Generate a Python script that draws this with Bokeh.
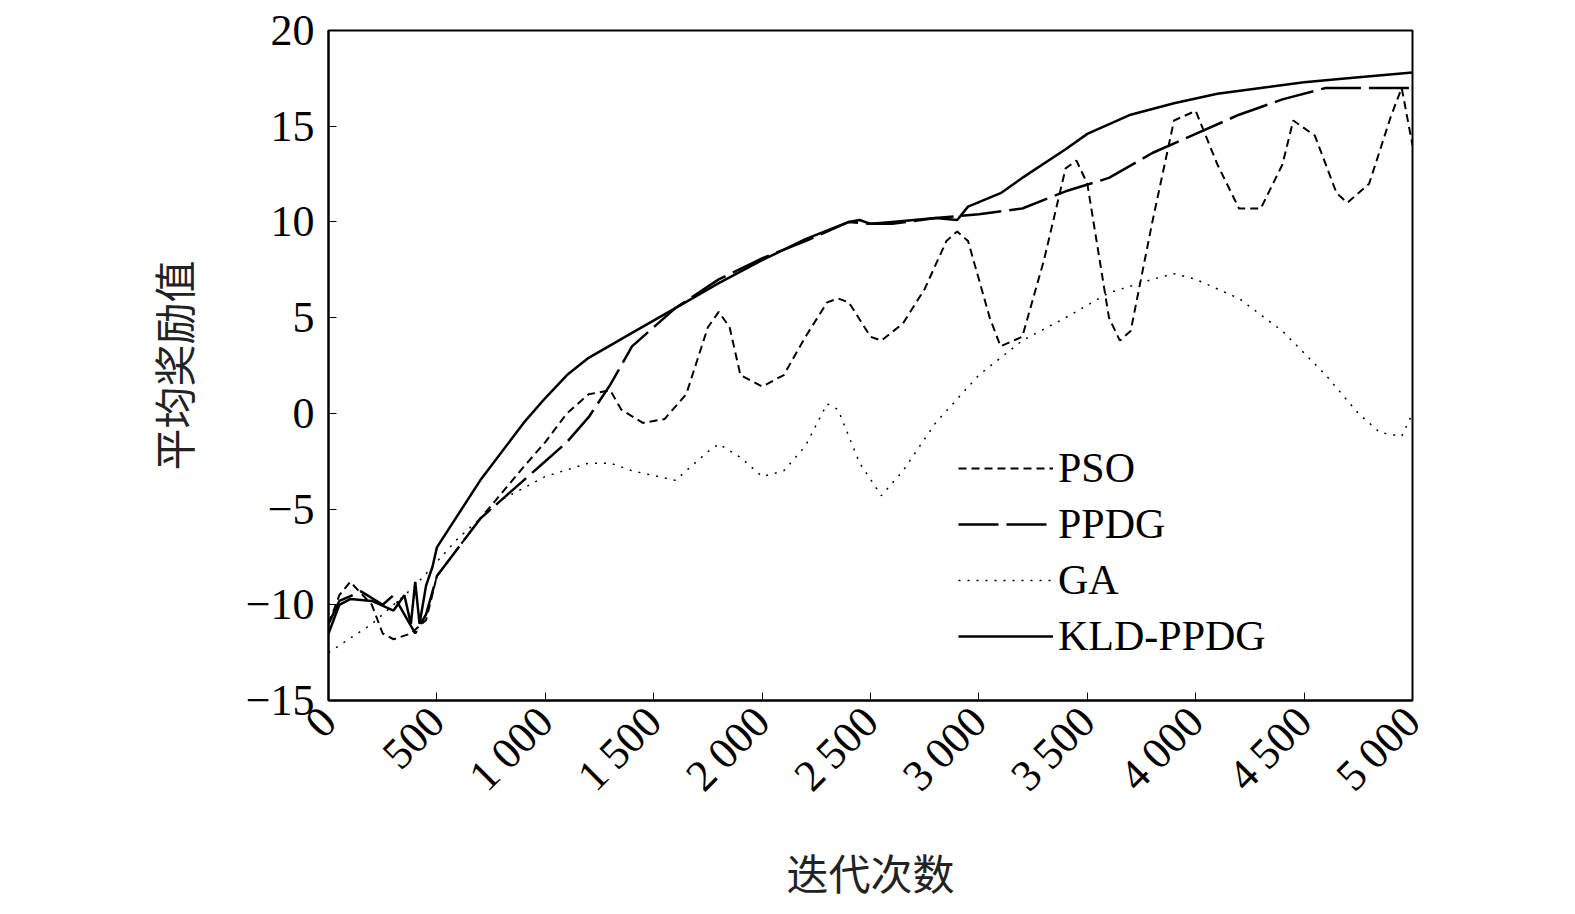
import math
from bokeh.plotting import figure
from bokeh.models import Legend, LegendItem, FixedTicker, CustomJSTickFormatter
from bokeh.embed import file_html
from bokeh.resources import INLINE

kld_x = [0,50,100,200,300,350,380,400,420,450,480,500,700,900,1000,1100,1200,1400,1600,1800,2000,2200,2400,2450,2500,2600,2800,2900,2950,3100,3200,3400,3500,3700,3900,4100,4300,4500,4700,5000]
kld_y = [-11.5,-10,-9.7,-9.8,-10.3,-9.5,-11,-8.8,-11,-9,-8,-7,-3.5,-0.5,0.8,2,2.9,4.2,5.5,6.8,8,9.1,10,10.1,9.9,10,10.2,10.1,10.8,11.5,12.3,13.8,14.6,15.6,16.2,16.7,17.0,17.3,17.5,17.8]
ppdg_x = [0,50,150,250,300,400,450,500,700,900,1000,1100,1200,1300,1400,1600,1800,2000,2200,2400,2500,2600,2800,3000,3200,3400,3600,3800,4000,4200,4400,4600,5000]
ppdg_y = [-11,-9.8,-9.3,-10,-9.5,-11.5,-10.5,-8.5,-5.5,-3.5,-2.5,-1.5,-0.2,1.5,3.5,5.5,7,8.1,9,10,9.9,9.9,10.2,10.4,10.7,11.6,12.3,13.6,14.6,15.6,16.4,17,17]
pso_x = [0,50,100,200,250,300,380,450,500,700,900,1000,1100,1200,1300,1350,1450,1550,1650,1750,1800,1850,1900,2000,2100,2200,2300,2350,2400,2500,2550,2650,2750,2850,2900,2950,3050,3100,3200,3300,3400,3450,3500,3600,3650,3700,3800,3900,4000,4100,4200,4300,4400,4450,4550,4650,4700,4800,4900,4950,5000]
pso_y = [-11,-9.5,-8.8,-10,-11.5,-11.8,-11.5,-10.8,-8.5,-5.5,-2.8,-1.5,0,1,1.2,0.2,-0.5,-0.3,1,4.5,5.3,4.5,2,1.4,2,4,5.8,6,5.8,4,3.8,4.7,6.5,9,9.5,9,5,3.5,4,8,12.8,13.2,12,5,3.8,4.3,10,15.3,15.8,13,10.7,10.7,13,15.3,14.5,11.5,11,12,15.5,17,14]
ga_x = [0,200,400,600,800,1000,1200,1300,1400,1600,1750,1800,1900,2000,2100,2200,2300,2350,2450,2550,2650,2800,3000,3200,3400,3600,3800,3900,4000,4200,4400,4600,4750,4850,4950,5000]
ga_y = [-12.5,-11,-9,-6.5,-4.5,-3.3,-2.6,-2.6,-3,-3.5,-2,-1.6,-2.3,-3.3,-3,-1.7,0.5,0.2,-2.6,-4.3,-3,-0.5,2,3.8,5,6.3,7,7.3,7,6,4.3,2,0,-1,-1.2,0]
x_ticks = [0,500,1000,1500,2000,2500,3000,3500,4000,4500,5000]
y_ticks = [-15,-10,-5,0,5,10,15,20]

p = figure(width=1562, height=904, output_backend="svg", toolbar_location=None,
           x_range=(0,5000), y_range=(-15,20),
           min_border_left=328, min_border_right=150, min_border_top=30, min_border_bottom=190)
p.grid.visible = False
p.outline_line_color = "black"; p.outline_line_width = 2
for ax in (p.xaxis[0], p.yaxis[0]):
    ax.major_label_text_font = "Liberation Serif"
    ax.major_label_text_font_size = "44px"
    ax.major_label_text_color = "black"
    ax.major_label_standoff = 14
    ax.axis_label_text_font = "Noto Sans CJK SC"
    ax.axis_label_text_font_size = "42px"
    ax.axis_label_text_font_style = "normal"
    ax.axis_label_text_color = "#222"
    ax.axis_line_width = 2
    ax.major_tick_in = 8; ax.major_tick_out = 0
    ax.minor_tick_line_color = None
p.yaxis.axis_label_standoff = 40
p.xaxis.axis_label_standoff = 20
p.xaxis.ticker = FixedTicker(ticks=x_ticks)
p.yaxis.ticker = FixedTicker(ticks=y_ticks)
p.xaxis.formatter = CustomJSTickFormatter(code="return tick>=1000 ? Math.floor(tick/1000)+'\u2009'+String(tick%1000).padStart(3,'0') : String(tick);")
p.yaxis.formatter = CustomJSTickFormatter(code="return tick<0 ? '\u2212'+Math.abs(tick) : String(tick);")
p.xaxis.major_label_orientation = math.pi/4
p.xaxis.axis_label = "迭代次数"
p.yaxis.axis_label = "平均奖励值"

r_pso = p.line(pso_x, pso_y, color="black", line_width=2, line_dash="8 5")
r_ppdg = p.line(ppdg_x, ppdg_y, color="black", line_width=2.5, line_dash="40 8")
r_ga = p.line(ga_x, ga_y, color="black", line_width=1.5, line_dash="2 7")
r_kld = p.line(kld_x, kld_y, color="black", line_width=2.5)

leg = Legend(items=[LegendItem(label="PSO", renderers=[r_pso]),
                    LegendItem(label="PPDG", renderers=[r_ppdg]),
                    LegendItem(label="GA", renderers=[r_ga]),
                    LegendItem(label="KLD-PPDG", renderers=[r_kld])],
             location=(630, 40), glyph_width=95, glyph_height=40,
             label_text_font="Liberation Serif", label_text_font_size="42px",
             label_text_color="black",
             border_line_color=None, background_fill_alpha=0, spacing=8)
p.add_layout(leg)
open("out.html", "w").write(file_html(p, INLINE))
